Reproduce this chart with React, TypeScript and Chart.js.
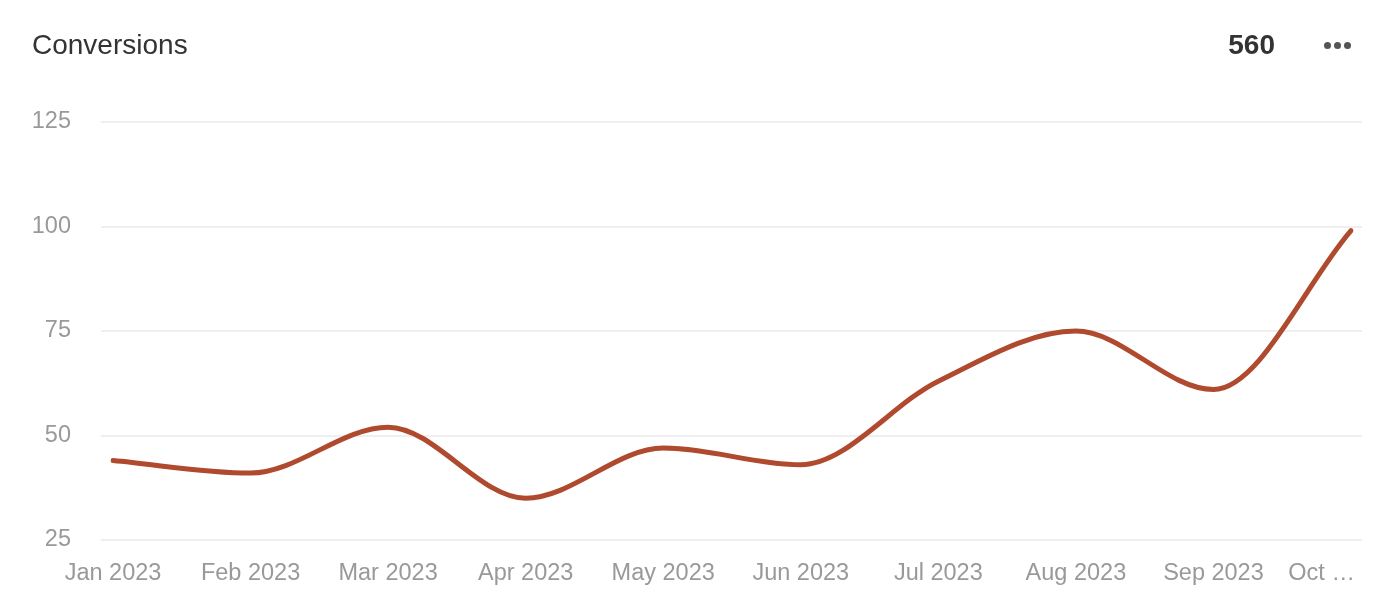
import React, { useEffect, useRef } from "react";
import { Chart, registerables } from "chart.js";

Chart.register(...registerables);

const categories = ["Jan 2023", "Feb 2023", "Mar 2023", "Apr 2023", "May 2023", "Jun 2023", "Jul 2023", "Aug 2023", "Sep 2023", "Oct 2023"];
const conversions = [44, 41, 52, 35, 47, 43, 63, 75, 61, 99];
const yTicks = [25, 50, 75, 100, 125];
const totalLabel = "560";
const titleText = "Conversions";

const FONT = "'Helvetica Neue', Helvetica, Arial, 'Liberation Sans', sans-serif";
const GRID = "#efefef";
const TICK = "#999999";
const LINE = "#b04a2e";

export default function App() {
  const ref = useRef<HTMLCanvasElement | null>(null);

  useEffect(() => {
    document.body.style.margin = "0";
    const ctx = ref.current;
    if (!ctx) return;
    const chart = new Chart(ctx, {
      type: "line",
      data: {
        labels: categories,
        datasets: [
          {
            label: titleText,
            data: conversions,
            borderColor: LINE,
            backgroundColor: LINE,
            borderWidth: 5,
            borderCapStyle: "round",
            borderJoinStyle: "round",
            pointRadius: 0,
            pointHoverRadius: 0,
            cubicInterpolationMode: "monotone",
            fill: false,
          },
        ],
      },
      options: {
        animation: false,
        responsive: false,
        maintainAspectRatio: false,
        layout: { padding: { top: 122, right: 30, bottom: 0, left: 0 } },
        plugins: { legend: { display: false }, tooltip: { enabled: false }, title: { display: false } },
        scales: {
          x: {
            type: "category",
            offset: false,
            grid: { display: false, drawTicks: false },
            border: { display: false },
            ticks: {
              color: TICK,
              font: { family: FONT, size: 23.5 },
              padding: 19,
              maxRotation: 0,
              autoSkip: false,
              callback: (_v: any, i: number) =>
                i === categories.length - 1
                  ? categories[i].slice(0, 3) + " …" + "\u00a0".repeat(9)
                  : categories[i],
            },
            afterFit: (s: any) => {
              s.height = 66;
              s.paddingLeft = 0;
              s.paddingRight = 0;
            },
          },
          y: {
            position: "left",
            min: yTicks[0],
            max: yTicks[yTicks.length - 1],
            afterBuildTicks: (s: any) => {
              s.ticks = yTicks.map((v) => ({ value: v }));
            },
            grid: { color: GRID, lineWidth: 2, drawTicks: true, tickLength: 12, tickColor: GRID },
            border: { display: false },
            ticks: { color: TICK, font: { family: FONT, size: 23.5, lineHeight: 1.05 }, padding: 30 },
            afterFit: (s: any) => {
              s.width = 113;
            },
          },
          y2: {
            position: "right",
            min: yTicks[0],
            max: yTicks[yTicks.length - 1],
            afterBuildTicks: (s: any) => {
              s.ticks = yTicks.map((v) => ({ value: v }));
            },
            grid: { color: GRID, lineWidth: 2, drawTicks: true, tickLength: 11, tickColor: GRID, drawOnChartArea: false },
            border: { display: false },
            ticks: { display: false },
            afterFit: (s: any) => {
              s.width = 11;
            },
          },
        },
      },
    } as any);
    return () => chart.destroy();
  }, []);

  const dot: React.CSSProperties = {
    position: "absolute",
    top: 41.5,
    width: 7,
    height: 7,
    borderRadius: "50%",
    background: "#555555",
  };

  return (
    <div style={{ position: "relative", width: 1392, height: 606, background: "#ffffff", fontFamily: FONT, overflow: "hidden" }}>
      <canvas ref={ref} width={1392} height={606} style={{ position: "absolute", left: 0, top: 0, width: 1392, height: 606 }} />
      <div style={{ position: "absolute", left: 32, top: 31, fontSize: 28, lineHeight: "28px", color: "#333333" }}>{titleText}</div>
      <div style={{ position: "absolute", right: 117, top: 31, fontSize: 28, lineHeight: "28px", fontWeight: 700, color: "#333333" }}>{totalLabel}</div>
      <div style={{ ...dot, left: 1324 }} />
      <div style={{ ...dot, left: 1334 }} />
      <div style={{ ...dot, left: 1344 }} />
    </div>
  );
}
